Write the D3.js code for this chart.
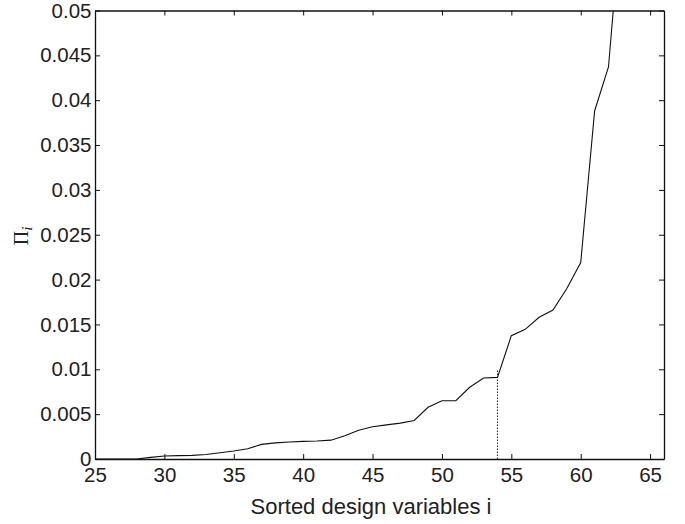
<!DOCTYPE html>
<html>
<head>
<meta charset="utf-8">
<script src="https://cdn.jsdelivr.net/npm/d3@7"></script>
<style>
  body { margin: 0; background: #fff; }
  svg { display: block; }
  .tick text { font-family: "Liberation Sans", Arial, sans-serif; font-size: 20.5px; fill: #222; }
</style>
</head>
<body>
<div id="container"></div>
<script>
// sorted design variable index
const idx = [25, 26, 27, 28, 29, 30, 31, 32, 33, 34, 35, 36, 37, 38, 39, 40, 41, 42, 43, 44,
             45, 46, 47, 48, 49, 50, 51, 52, 53, 54, 55, 56, 57, 58, 59, 60, 61, 62, 63];
// Pi_i values
const piVals = [0, 0, 0, 0, 0.00018, 0.00033, 0.00038, 0.0004, 0.0005, 0.0007, 0.0009, 0.00115, 0.00163, 0.0018, 0.0019, 0.00197,
                0.002, 0.0021, 0.0026, 0.0032, 0.0036, 0.0038, 0.004, 0.0043, 0.00576, 0.0065, 0.0065,
                0.008, 0.00903, 0.0091, 0.01375, 0.01446, 0.0158, 0.0166, 0.019, 0.0219, 0.0388, 0.0437, 0.062];
const xTicks = [25, 30, 35, 40, 45, 50, 55, 60, 65];
const yTicks = [0, 0.005, 0.01, 0.015, 0.02, 0.025, 0.03, 0.035, 0.04, 0.045, 0.05];
const yTickLabels = ['0', '0.005', '0.01', '0.015', '0.02', '0.025', '0.03', '0.035', '0.04', '0.045', '0.05'];
// threshold marker
const markX = 54;
const markY = 0.01;

const width = 685, height = 524;
const margin = { top: 10.5, right: 21, bottom: 65, left: 95 };
const w = width - margin.left - margin.right;
const h = height - margin.top - margin.bottom;

const svg = d3.select('#container').append('svg')
  .attr('width', width).attr('height', height);

const x = d3.scaleLinear().domain([25, 66]).range([0, w]);
const y = d3.scaleLinear().domain([0, 0.05]).range([h, 0]);

const g = svg.append('g').attr('transform', `translate(${margin.left},${margin.top})`);

g.append('defs').append('clipPath').attr('id', 'clip')
  .append('rect').attr('width', w).attr('height', h);

// axes, ticks inward on all four sides
const fmt = (d, i) => yTickLabels[i];
const xAxisG = g.append('g').attr('transform', `translate(0,${h})`)
  .call(d3.axisBottom(x).tickValues(xTicks).tickSizeInner(-5).tickSizeOuter(0).tickPadding(8));
const yAxisG = g.append('g')
  .call(d3.axisLeft(y).tickValues(yTicks).tickFormat(fmt).tickSizeInner(-5).tickSizeOuter(0).tickPadding(3.5));
g.append('g')
  .call(d3.axisTop(x).tickValues(xTicks).tickFormat('').tickSizeInner(-5).tickSizeOuter(0));
g.append('g').attr('transform', `translate(${w},0)`)
  .call(d3.axisRight(y).tickValues(yTicks).tickFormat('').tickSizeInner(-5).tickSizeOuter(0));

g.selectAll('.domain').attr('stroke', '#111').attr('stroke-width', 1.3);
g.selectAll('.tick line').attr('stroke', '#111');

// dotted marker
g.append('line')
  .attr('x1', x(markX)).attr('x2', x(markX))
  .attr('y1', y(0)).attr('y2', y(markY))
  .attr('stroke', '#222').attr('stroke-width', 1).attr('stroke-dasharray', '1.5,1.5');

// curve
const line = d3.line().x((d, i) => x(idx[i])).y(d => y(d));
g.append('path')
  .datum(piVals)
  .attr('clip-path', 'url(#clip)')
  .attr('d', line)
  .attr('fill', 'none')
  .attr('stroke', '#111')
  .attr('stroke-width', 1.1);

// labels
svg.append('text')
  .attr('x', 371).attr('y', 514)
  .attr('text-anchor', 'middle')
  .style('font-family', '"Liberation Sans", Arial, sans-serif')
  .style('font-size', '22px').style('fill', '#222')
  .text('Sorted design variables i');

const yl = svg.append('text')
  .attr('transform', 'translate(28,236) rotate(-90)')
  .attr('text-anchor', 'middle')
  .style('font-family', '"Liberation Serif", "Times New Roman", serif')
  .style('font-size', '20px').style('fill', '#222');
yl.append('tspan').text('Π');
yl.append('tspan').attr('dy', 4).style('font-style', 'italic').style('font-size', '15px').text('i');
</script>
</body>
</html>
